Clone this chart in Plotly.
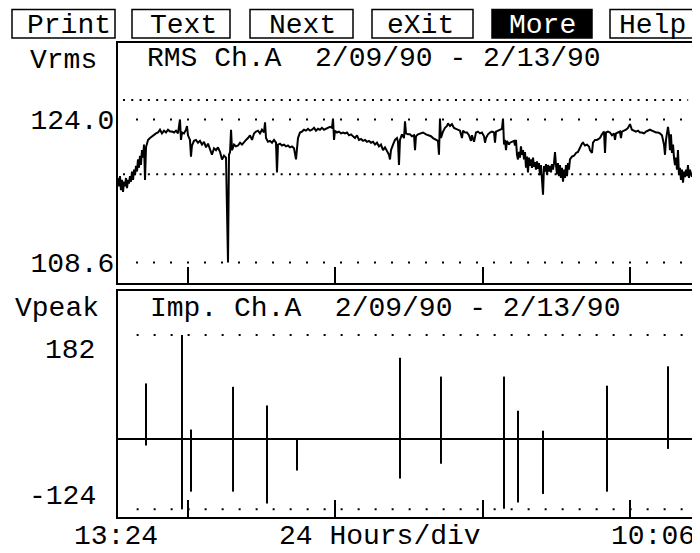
import plotly.graph_objects as go

# ---------------- data (hours after 13:24 on 2/09/90) ----------------
rms_hours = [
    0.00, 0.16, 0.32, 0.48, 0.64, 0.81, 0.97, 1.13, 1.29, 1.45,
    1.61, 1.77, 1.93, 2.09, 2.25, 2.42, 2.58, 2.74, 2.90, 3.06,
    3.22, 3.38, 3.54, 3.70, 3.86, 4.03, 4.19, 4.35, 4.51, 4.67,
    4.83, 5.15, 5.47, 5.80, 6.12, 6.44, 6.76, 7.08, 7.41, 7.73,
    8.05, 8.37, 8.69, 9.02, 9.34, 9.66, 9.98, 10.14, 10.30, 10.63,
    10.95, 11.11, 11.27, 11.59, 11.75, 11.91, 12.24, 12.56, 12.88, 13.20,
    13.52, 13.85, 14.17, 14.49, 14.81, 15.13, 15.46, 15.78, 16.10, 16.43,
    16.75, 17.07, 17.39, 17.71, 17.87, 18.04, 18.20, 18.36, 18.68, 19.00,
    19.32, 19.65, 19.97, 20.29, 20.61, 20.93, 21.26, 21.58, 21.90, 22.22,
    22.54,
    22.86, 23.18, 23.51, 23.67, 23.83, 24.15, 24.47, 24.79, 25.12, 25.44,
    25.60, 25.76, 26.08, 26.40, 26.73, 27.05, 27.37, 27.69, 28.01, 28.34,
    28.66, 28.82, 28.98, 29.30, 29.62, 29.95, 30.27, 30.59, 30.91, 31.23,
    31.56, 31.88, 32.20, 32.52, 32.84, 33.17, 33.49, 33.81, 34.13, 34.45,
    34.62, 34.78, 34.94, 35.26, 35.58, 35.90, 36.23, 36.55, 36.87, 37.19,
    37.51, 37.84, 38.16, 38.48, 38.80, 39.12, 39.45, 39.77, 40.09, 40.41,
    40.73, 41.06, 41.38, 41.70, 42.02, 42.34, 42.67, 42.99, 43.31, 43.63,
    43.79, 43.95, 44.28, 44.60, 44.92, 45.08, 45.24, 45.40,
    45.72, 46.05, 46.21, 46.37, 46.69, 47.01, 47.33, 47.66, 47.82, 47.98,
    48.30, 48.62, 49.11, 49.59, 49.91, 50.39, 50.72, 51.04, 51.36, 51.52,
    51.68, 51.84, 52.00, 52.33, 52.65, 52.97, 53.13, 53.45, 53.77, 54.10,
    54.42, 54.74, 55.06, 55.38, 55.55, 55.87, 56.19, 56.51, 56.83, 56.99,
    57.32, 57.64, 57.96, 58.28, 58.60, 58.93, 59.09, 59.25, 59.57, 59.89,
    60.21, 60.54, 60.70, 60.86, 61.18, 61.50, 61.82, 61.99, 62.15, 62.31,
    62.47, 62.63, 62.95, 63.11, 63.43, 63.76, 63.92, 64.08, 64.24, 64.40,
    64.56, 64.72, 64.88, 65.04, 65.21, 65.37, 65.53, 65.69, 65.85, 66.01,
    66.17, 66.33, 66.49, 66.65, 66.82, 66.98, 67.14, 67.30, 67.46, 67.62,
    67.78, 67.94, 68.10, 68.26, 68.43, 68.59, 68.75,
    68.91, 69.07, 69.23, 69.39, 69.55, 69.71, 69.87, 70.04, 70.20, 70.36,
    70.52, 70.68, 70.84, 71.00, 71.16, 71.32, 71.48, 71.65, 71.81, 71.97,
    72.13, 72.29, 72.45, 72.61, 72.77, 73.09, 73.42, 73.74, 74.06, 74.38,
    74.70, 74.87, 75.19, 75.51, 75.83, 75.99, 76.31, 76.48, 76.80, 77.12,
    77.60, 77.92, 78.25, 78.41, 78.57, 78.89, 79.21, 79.53, 79.86, 80.02,
    80.18, 80.50, 80.82, 80.98, 81.14, 81.47, 81.79, 82.11, 82.43, 82.75,
    83.08, 83.40, 83.72, 84.04, 84.36, 84.69, 85.01, 85.33, 85.65, 85.97,
    86.30, 86.62, 86.94, 87.26, 87.58, 87.91, 88.07, 88.23, 88.55, 88.71,
    88.87, 89.03, 89.19, 89.36, 89.52, 89.68, 89.84, 90.00, 90.16, 90.32,
    90.48, 90.64, 90.80, 90.97, 91.13, 91.29, 91.45, 91.61, 91.77, 91.93,
    92.09, 92.25, 92.41,
]
rms_volts = [
    117.7, 116.8, 117.9, 116.4, 117.5, 116.2, 117.3, 116.8, 117.7, 116.6,
    117.5, 117.1, 117.9, 117.3, 118.4, 117.5, 118.6, 118.0, 119.0, 118.4,
    119.7, 118.8, 120.1, 119.1, 120.7, 119.9, 121.3, 117.5, 121.0, 121.6,
    121.8, 122.0, 122.2, 122.3, 122.5, 122.6, 122.9, 122.5, 122.8, 122.6,
    122.9, 122.7, 122.7, 122.6, 122.8, 122.5, 124.0, 121.8, 122.6, 122.5,
    122.9, 123.3, 122.3, 121.8, 120.0, 121.2, 121.7, 121.8, 121.5, 121.7,
    121.3, 121.6, 121.0, 121.4, 120.7, 120.2, 120.9, 120.7, 121.0, 120.5,
    119.7, 120.1, 119.9, 108.6, 120.2, 120.5, 122.9, 120.7, 121.3, 121.1,
    121.2, 121.5, 121.3, 121.6, 121.8, 122.0, 122.3, 121.8, 122.5, 122.7,
    122.8,
    122.5, 122.9, 122.6, 123.7, 122.0, 121.6, 121.7, 121.5, 121.8, 121.5,
    118.3, 121.3, 121.4, 121.2, 121.3, 121.1, 121.2, 121.0, 121.1, 120.9,
    119.7, 121.2, 122.0, 122.6, 122.7, 122.9, 122.8, 123.0, 122.8, 122.9,
    123.1, 122.8, 123.0, 122.9, 123.1, 122.9, 123.0, 123.1, 123.2, 123.1,
    124.1, 121.8, 122.8, 122.6, 122.7, 122.5, 122.6, 122.5, 122.6, 122.3,
    122.4, 122.2, 122.0, 122.3, 121.8, 121.9, 121.7, 121.8, 121.6, 121.7,
    121.5, 121.6, 121.3, 121.5, 121.1, 121.3, 120.7, 121.0, 120.5, 120.2,
    119.7, 120.7, 121.3, 121.8, 122.0, 121.6, 119.1, 121.8,
    122.4, 122.0, 123.8, 122.5, 122.4, 122.4, 122.2, 122.3, 120.7, 122.2,
    122.4, 122.5, 122.6, 122.4, 122.3, 122.2, 122.0, 121.9, 121.8, 121.7,
    120.2, 124.1, 122.0, 122.7, 123.1, 123.3, 123.6, 123.3, 123.5, 123.1,
    123.0, 122.9, 122.8, 122.0, 122.8, 122.6, 122.6, 122.3, 121.7, 122.3,
    121.6, 122.6, 122.7, 122.5, 122.6, 122.2, 121.5, 122.0, 122.4, 122.6,
    122.7, 122.6, 121.5, 122.7, 122.8, 122.9, 123.0, 124.1, 121.3, 121.8,
    120.7, 121.7, 121.3, 121.5, 121.6, 121.7, 121.2, 121.8, 120.2, 119.7,
    120.5, 119.9, 121.1, 120.2, 120.7, 119.7, 120.5, 118.8, 120.0, 118.3,
    119.9, 119.0, 119.7, 118.8, 119.9, 118.9, 119.4, 118.6, 119.5, 118.7,
    119.3, 118.0, 119.1, 117.8, 115.9, 119.0, 118.4,
    119.2, 118.1, 119.1, 118.4, 119.0, 118.3, 119.2, 118.6, 119.3, 120.5,
    119.1, 118.1, 119.3, 117.9, 119.1, 117.7, 118.8, 117.3, 118.6, 117.7,
    119.1, 117.9, 119.3, 118.6, 119.7, 120.0, 120.1, 120.4, 120.5, 121.0,
    121.4, 121.5, 121.2, 121.3, 121.1, 120.7, 120.4, 121.5, 121.8, 121.8,
    122.0, 122.4, 122.7, 120.4, 122.6, 122.7, 122.6, 122.3, 122.5, 121.8,
    122.5, 122.6, 122.7, 122.0, 122.7, 122.8, 122.9, 123.1, 123.5, 122.9,
    122.8, 122.7, 122.8, 122.6, 122.6, 122.5, 122.7, 122.8, 122.9, 122.8,
    122.7, 122.6, 122.6, 122.5, 122.3, 121.3, 120.2, 121.8, 123.2, 122.4,
    120.7, 122.4, 120.4, 121.3, 119.9, 119.1, 119.9, 118.6, 120.7, 118.0,
    118.8, 117.5, 118.6, 117.2, 118.4, 117.8, 118.6, 117.9, 119.1, 117.7,
    118.6, 118.0, 117.8,
]

imp_hours = [4.51, 10.30, 11.75, 18.52, 23.99, 28.82, 45.40, 52.00, 62.15, 64.40, 68.43, 78.73, 88.55]
imp_max = [97, 182, 16, 91, 58, 0, 142, 109, 109, 49, 14, 93, 127]
imp_min = [-12, -124, -93, -93, -114, -56, -70, -44, -123, -112, -97, -93, -18]

time_span = [0, 92.74]                # 13:24 -> 10:06
day_ticks = [11.3, 34.9, 58.8, 82.5]  # 24 hours/div marks
rms_range = [106.39, 132.24]
rms_grid = [126.1, 124.0, 118.1, 108.6]
rms_labels = ["124.0", "108.6"]
imp_range = [-137.5, 259.2]
imp_grid = [182, -124]

buttons = ["Print", "Text", "Next", "eXit", "More", "Help"]

# ---------------- layout constants ----------------
# the page body keeps its default 8px margin, so the figure is 8px smaller
OFF = 8
W, H = 700 - OFF, 553 - OFF
FONT = "Liberation Mono"
FS = 28


def px(x):
    return (x - OFF) / W


def py(y):
    return 1 - (y - OFF) / H


fig = go.Figure()

# RMS trace
fig.add_trace(go.Scatter(x=rms_hours, y=rms_volts, mode="lines",
                         line=dict(color="black", width=2),
                         xaxis="x", yaxis="y", hoverinfo="skip"))

# impulse spikes
ix, iy = [], []
for h, a, b in zip(imp_hours, imp_max, imp_min):
    ix += [h, h, None]
    iy += [a, b, None]
fig.add_trace(go.Scatter(x=ix, y=iy, mode="lines",
                         line=dict(color="black", width=2),
                         xaxis="x2", yaxis="y2", hoverinfo="skip"))

axis_common = dict(showline=True, mirror=True, linecolor="black", linewidth=2,
                   showgrid=False, zeroline=False)

xdom = [px(118), px(694)]
fig.update_layout(
    width=W, height=H, margin=dict(l=0, r=0, t=0, b=0),
    paper_bgcolor="white", plot_bgcolor="white", showlegend=False,
    font=dict(family=FONT, size=FS, color="black"),
    xaxis=dict(domain=xdom, range=time_span, anchor="y", tickvals=day_ticks,
               ticks="inside", ticklen=16, tickwidth=1.5, tickcolor="black",
               showticklabels=False, **axis_common),
    yaxis=dict(domain=[py(283), py(43)], range=rms_range, anchor="x",
               tickvals=[124.0, 108.6], ticktext=rms_labels, ticks="",
               ticklabelstandoff=-4,
               tickfont=dict(family=FONT, size=FS, color="black"),
               **axis_common),
    xaxis2=dict(domain=xdom, range=time_span, anchor="y2", tickvals=day_ticks,
                ticks="inside", ticklen=17, tickwidth=1.5, tickcolor="black",
                showticklabels=False, **axis_common),
    yaxis2=dict(domain=[py(517), py(291)], range=imp_range, anchor="x2",
                showticklabels=False, ticks="", showline=True, mirror=True,
                linecolor="black", linewidth=2, showgrid=False,
                zeroline=True, zerolinecolor="black", zerolinewidth=1.6),
)

# dotted reference lines
dot_specs = [
    ("x", "y", rms_grid[0], 0.8, "2px,6.3px"),
    ("x", "y", rms_grid[1], 2.9, "2px,15px"),
    ("x", "y", rms_grid[2], 0.8, "2px,6.3px"),
    ("x", "y", rms_grid[3], 2.9, "2px,15px"),
    ("x2", "y2", imp_grid[0], 3.0, "2px,15px"),
    ("x2", "y2", imp_grid[1], 3.0, "2px,15px"),
]
for xr, yr, yv, x0, dash in dot_specs:
    fig.add_shape(type="line", xref=xr, yref=yr, x0=x0, x1=91.8, y0=yv, y1=yv,
                  line=dict(color="black", width=2, dash=dash), layer="below")

# menu buttons
btn_left = [12, 132, 250, 372, 492, 610]
btn_right = [115, 230, 353, 473, 592, 693]
btn_text_x = [69, 183, 302, 420, 542, 652]
for name, l, r, tx in zip(buttons, btn_left, btn_right, btn_text_x):
    inv = name == "More"
    fig.add_shape(type="rect", xref="paper", yref="paper",
                  x0=px(l), x1=px(r), y0=py(38), y1=py(9.5),
                  line=dict(color="black", width=1.5),
                  fillcolor="black" if inv else "white")
    fig.add_annotation(x=px(tx), y=py(24 + 1.5), xref="paper", yref="paper",
                       text=name, showarrow=False, xanchor="center",
                       yanchor="middle",
                       font=dict(family=FONT, size=FS,
                                 color="white" if inv else "black"))

labels = [
    ("Vrms", 28, 58.5, "left"),
    ("RMS Ch.A  2/09/90 - 2/13/90", 145, 56.5, "left"),
    ("Vpeak", 13, 306.5, "left"),
    ("Imp. Ch.A  2/09/90 - 2/13/90", 148, 306.5, "left"),
    ("182", 97, 348.5, "right"),
    ("-124", 98, 495, "right"),
    ("13:24", 72, 535, "left"),
    ("24 Hours/div", 277, 535, "left"),
    ("10:06", 697, 535, "right"),
]
for t, x, y, anc in labels:
    fig.add_annotation(x=px(x), y=py(y + 1.5), xref="paper", yref="paper",
                       text=t, showarrow=False, xanchor=anc, yanchor="middle",
                       font=dict(family=FONT, size=FS, color="black"))

fig.write_html("out.html")
